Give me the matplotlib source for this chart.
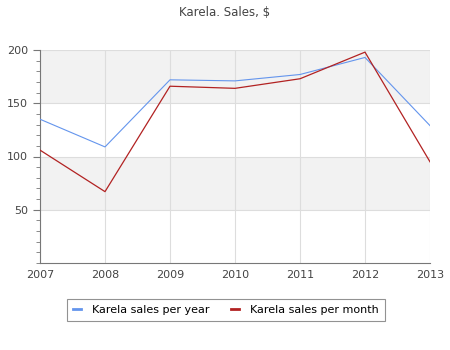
import numpy as np
import matplotlib.pyplot as plt

years = [2007, 2008, 2009, 2010, 2011, 2012, 2013]
per_year = [135, 109, 172, 171, 177, 193, 129]
per_month = [106, 67, 166, 164, 173, 198, 95]

fig = plt.figure(figsize=(4.5, 3.5), dpi=100)
ax = fig.add_axes([40/450, 87/350, 390/450, 213/350])

# alternating bands
for lo, hi in [(50, 100), (150, 200)]:
	ax.axhspan(lo, hi, color='#f2f2f2', zorder=0, lw=0)

ax.set_xlim(2007, 2013)
ax.set_ylim(0, 200)
ax.set_xticks(years)
ax.set_yticks([50, 100, 150, 200])
ax.set_yticks(np.arange(0, 201, 10), minor=True)
ax.grid(True, color='#dddddd', lw=0.8, zorder=1)
ax.set_axisbelow(True)

l1, = ax.plot(years, per_year, color='#6495ed', lw=0.8, zorder=3)
l2, = ax.plot(years, per_month, color='#b22222', lw=0.9, zorder=3)

for s in ['top', 'right']:
	ax.spines[s].set_visible(False)
for s in ['left', 'bottom']:
	ax.spines[s].set_color('#777777')
ax.tick_params(axis='both', which='both', colors='#777777', labelcolor='#444444', labelsize=8)
ax.tick_params(axis='y', which='major', length=5)
ax.tick_params(axis='y', which='minor', length=3)
ax.tick_params(axis='x', length=0, pad=5)

fig.text(0.5, 1 - 12/350, 'Karela. Sales, $', ha='center', va='center', fontsize=8.5, color='#444444')

leg = fig.legend([l1, l2], ['Karela sales per year', 'Karela sales per month'],
	loc='center', bbox_to_anchor=(226/450, 1 - 310/350), ncol=2, fontsize=8,
	frameon=True, fancybox=False, handlelength=0.7, handletextpad=1.0, columnspacing=2.0,
	borderpad=0.55, borderaxespad=0)
leg.get_frame().set_edgecolor('#777777')
leg.get_frame().set_linewidth(0.8)
for h in leg.legend_handles:
	h.set_linewidth(2)

fig.savefig('out.png', dpi=100)
